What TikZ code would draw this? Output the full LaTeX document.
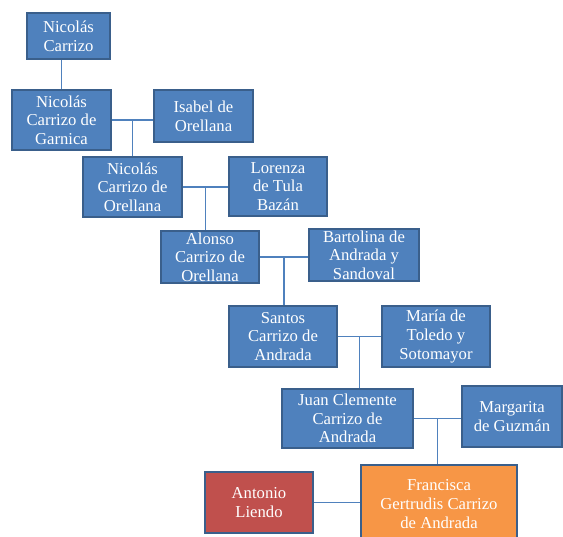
\documentclass[tikz,border=0pt]{standalone}
\usepackage{fontspec}
\setmainfont{Liberation Serif}
\usetikzlibrary{calc}

\definecolor{famblue}{HTML}{4F81BD}
\definecolor{famedge}{HTML}{3A5F8B}
\definecolor{famorange}{HTML}{F79646}
\definecolor{famred}{HTML}{C0504D}

\tikzset{every picture/.style={line width=0.75pt}}
\tikzset{
  person/.style={draw=famedge, line width=1.5pt, fill=famblue, text=white, align=center,
    inner sep=0pt, font=\fontsize{12.5}{14}\selectfont},
  size/.style 2 args={minimum width=#1*0.75pt, minimum height=#2*0.75pt},
  link/.style={draw=famblue, line width=1.1pt}
}

\begin{document}
\begin{tikzpicture}[x=0.75pt,y=0.75pt,yscale=-1,xscale=1]
	\useasboundingbox (0,0) rectangle (563,536);
	
	% Persons
	\node [person, size={83}{46}] (carrizo) at (68.5,36) {Nicolás\\Carrizo};
	\node [person, size={99}{60}] (garnica) at (61.5,120) {Nicolás\\Carrizo de\\Garnica};
	\node [person, size={99}{52}] (isabel) at (203.5,116) {Isabel de\\Orellana};
	\node [person, size={99}{60}] (orellana) at (132.5,187) {Nicolás\\Carrizo de\\Orellana};
	\node [person, size={98}{59}] (lorenza) at (278,186.5) {Lorenza\\de Tula\\Bazán};
	\node [person, size={98}{52}] (alonso) at (210,257) {Alonso\\Carrizo de\\Orellana};
	\node [person, size={110}{52}] (bartolina) at (364,255) {Bartolina de\\Andrada y\\Sandoval};
	\node [person, size={108}{61}] (santos) at (283,336.5) {Santos\\Carrizo de\\Andrada};
	\node [person, size={108}{61}] (maria) at (436,336.5) {María de\\Toledo y\\Sotomayor};
	\node [person, size={131}{59}] (juan) at (347.5,418.5) {Juan Clemente\\Carrizo de\\Andrada};
	\node [person, size={100}{61}] (margarita) at (512,416.5) {Margarita\\de Guzmán};
	\node [person, size={156}{78}, fill=famorange] (francisca) at (439,504) {Francisca\\Gertrudis Carrizo\\de Andrada};
	\node [person, size={108}{61}, fill=famred] (antonio) at (259,502.5) {Antonio\\Liendo};
	
	% Couples
	\draw [link] (garnica.east) -- (garnica.east -| isabel.west);
	\draw [link] (orellana.east) -- (orellana.east -| lorenza.west);
	\draw [link] (alonso.east) -- (alonso.east -| bartolina.west);
	\draw [link] (santos.east) -- (santos.east -| maria.west);
	\draw [link] (juan.east) -- (juan.east -| margarita.west);
	\draw [link] (antonio.east) -- (antonio.east -| francisca.west);
	
	% Descent
	\coordinate (m1) at ($(garnica.east)!0.5!(isabel.west)$);
	\coordinate (m2) at ($(orellana.east)!0.5!(lorenza.west)$);
	\coordinate (m3) at ($(alonso.east)!0.5!(bartolina.west)$);
	\coordinate (m4) at ($(santos.east)!0.5!(maria.west)$);
	\coordinate (m5) at ($(juan.east)!0.5!(margarita.west)$);
	\draw [link] (garnica.north) -- (garnica.north |- carrizo.south);
	\draw [link] (m1 |- garnica.east) -- (m1 |- orellana.north);
	\draw [link] (m2 |- orellana.east) -- (m2 |- alonso.north);
	\draw [link] (m3 |- alonso.east) -- (m3 |- santos.north);
	\draw [link] (m4 |- santos.east) -- (m4 |- juan.north);
	\draw [link] (m5 |- juan.east) -- (m5 |- francisca.north);
	
\end{tikzpicture}
\end{document}
